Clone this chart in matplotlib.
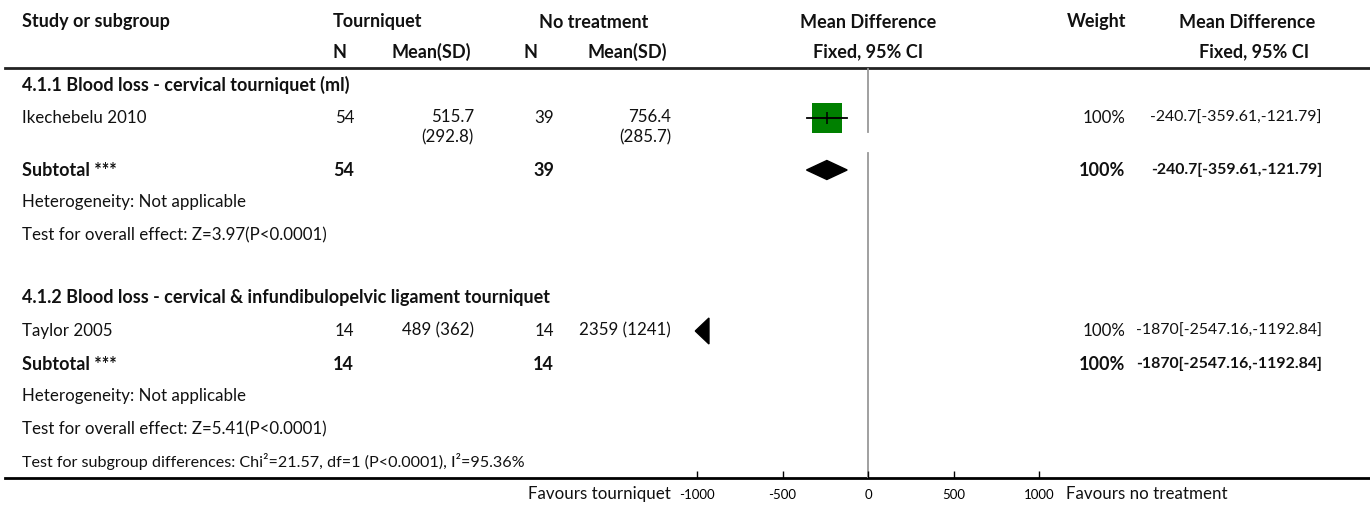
import matplotlib
matplotlib.use("Agg")
import matplotlib.pyplot as plt
from matplotlib.patches import Polygon

plt.rcParams['font.family'] = ['Lato', 'DejaVu Sans']

# Study data
subgroups = ["4.1.1 Blood loss - cervical tourniquet (ml)",
             "4.1.2 Blood loss - cervical & infundibulopelvic ligament tourniquet"]
studies = ["Ikechebelu 2010", "Taylor 2005"]
n_tq = [54, 14]
mean_tq = [515.7, 489]
sd_tq = [292.8, 362]
n_none = [39, 14]
mean_none = [756.4, 2359]
sd_none = [285.7, 1241]
md = [-240.7, -1870]
ci_lo = [-359.61, -2547.16]
ci_hi = [-121.79, -1192.84]
weight = ["100%", "100%"]
z_stat = [3.97, 5.41]
subgroup_test = "Test for subgroup differences: Chi²=21.57, df=1 (P<0.0001), I²=95.36%"
xticks = [-1000, -500, 0, 500, 1000]

W, H = 1370, 507
FS = 12.2    # regular text
FSB = 13.0   # bold text
fig = plt.figure(figsize=(W / 100, H / 100), dpi=100)

# background axes in pixel coordinates for the table text
bg = fig.add_axes([0, 0, 1, 1])
bg.set_xlim(0, W)
bg.set_ylim(H, 0)
bg.axis("off")

# forest plot axes, x in mean difference units, y in pixels
x_l, x_r, y_axis = 697, 1039, 478
fa = fig.add_axes([x_l / W, (H - y_axis) / H, (x_r - x_l) / W, y_axis / H])
fa.set_xlim(-1000, 1000)
fa.set_ylim(y_axis, 0)
for s in fa.spines.values():
    s.set_visible(False)
fa.set_yticks([])
fa.set_xticks(xticks)
fa.set_xticklabels([str(t) for t in xticks])
fa.tick_params(axis="x", direction="in", length=5, width=1, pad=8,
               labelsize=9.5, colors="black")
fa.patch.set_alpha(0)


def txt(x, y, s, ha="left", bold=False, size=None):
    if size is None:
        size = FSB if bold else FS
    bg.text(x, y, s, ha=ha, va="center", fontsize=size,
            fontweight="bold" if bold else "normal", color="#111111")


def mean_sd(m, sd):
    s = "%g (%g)" % (m, sd)
    if len(s) > 11:
        s = "%g\n(%g)" % (m, sd)
    return s


# header
txt(22, 22, "Study or subgroup", bold=True)
txt(378, 22, "Tourniquet", ha="center", bold=True)
txt(594, 22, "No treatment", ha="center", bold=True)
txt(868, 22, "Mean Difference", ha="center", bold=True)
txt(1097, 22, "Weight", ha="center", bold=True)
txt(1247, 22, "Mean Difference", ha="center", bold=True)
txt(340, 52, "N", ha="center", bold=True)
txt(431, 52, "Mean(SD)", ha="center", bold=True)
txt(531, 52, "N", ha="center", bold=True)
txt(627, 52, "Mean(SD)", ha="center", bold=True)
txt(868, 52, "Fixed, 95% CI", ha="center", bold=True)
txt(1254, 52, "Fixed, 95% CI", ha="center", bold=True)
bg.plot([5, W], [68, 68], color="#222222", lw=2)

group_top = [85, 298]
zero_segs = [(69, 132), (153, y_axis)]
y_end = 0
for i in range(len(studies)):
    y0 = group_top[i]
    y_study = y0 + 33
    txt(22, y0, subgroups[i], bold=True)

    ci_text = "%g[%.2f,%.2f]" % (md[i], ci_lo[i], ci_hi[i])
    txt(22, y_study, studies[i])
    txt(354, y_study, str(n_tq[i]), ha="right")
    txt(554, y_study, str(n_none[i]), ha="right")
    wrapped = False
    for x, m, sd in [(474, mean_tq[i], sd_tq[i]), (671, mean_none[i], sd_none[i])]:
        s = mean_sd(m, sd)
        wrapped = wrapped or "\n" in s
        bg.text(x, y_study - 9, s, ha="right", va="top", fontsize=FS,
                color="#111111", linespacing=1.3)
    txt(1125, y_study, weight[i], ha="right")
    txt(1322, y_study, ci_text, ha="right", size=11.4)

    y_sub = y_study + (52 if wrapped else 33)
    txt(22, y_sub, "Subtotal ***", bold=True)
    txt(354, y_sub, str(n_tq[i]), ha="right", bold=True)
    txt(554, y_sub, str(n_none[i]), ha="right", bold=True)
    txt(1125, y_sub, weight[i], ha="right", bold=True)
    txt(1322, y_sub, ci_text, ha="right", bold=True, size=11.4)

    txt(22, y_sub + 32, "Heterogeneity: Not applicable")
    txt(22, y_sub + 65, "Test for overall effect: Z=%.2f(P<0.0001)" % z_stat[i])
    y_end = y_sub + 65

    # study marker, or an arrow when the interval lies off the scale
    if ci_hi[i] < -1000:
        fa.add_patch(Polygon([(-1010, y_study), (-930, y_study - 13), (-930, y_study + 13)],
                             closed=True, color="black", clip_on=False))
    else:
        fa.plot([ci_lo[i], ci_hi[i]], [y_study, y_study], color="black", lw=1.3, zorder=4)
        fa.plot([md[i]], [y_study], marker="s", ms=22.3, color="#008000", mew=0, zorder=3)
        fa.plot([md[i]], [y_study], marker="|", ms=8, color="black", mew=1.1, zorder=5)
        fa.add_patch(Polygon([(ci_lo[i], y_sub), (md[i], y_sub - 9.5),
                              (ci_hi[i], y_sub), (md[i], y_sub + 9.5)],
                             closed=True, color="black", zorder=4))

txt(22, y_end + 32, subgroup_test, size=11.6)

for a, b in zero_segs:
    fa.plot([0, 0], [a, b], color="#999999", lw=1.3, zorder=1)

bg.plot([5, W], [y_axis, y_axis], color="black", lw=2)
txt(671, 494, "Favours tourniquet", ha="right")
txt(1066, 494, "Favours no treatment")

fig.savefig("out.png", dpi=100)
